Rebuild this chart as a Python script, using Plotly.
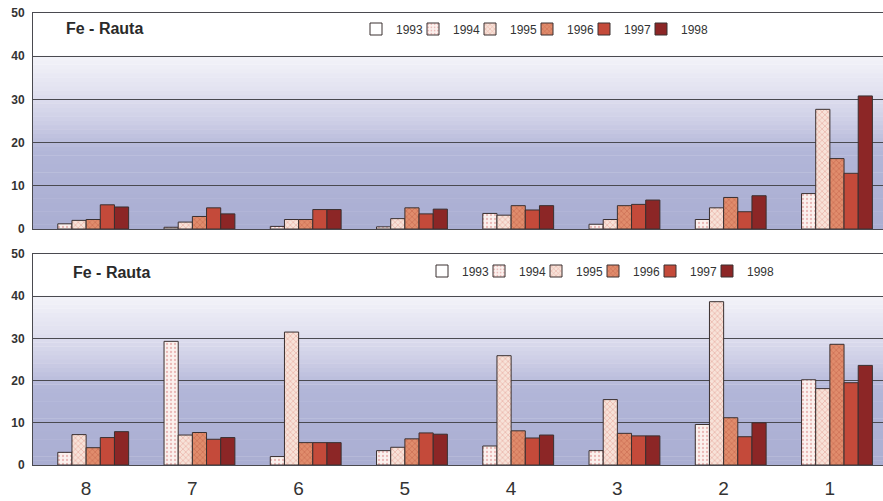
import plotly.graph_objects as go

categories = ["8", "7", "6", "5", "4", "3", "2", "1"]
years = ["1993", "1994", "1995", "1996", "1997", "1998"]

# top panel values (1993 has no bars)
top_1993 = [None] * 8
top_1994 = [1.2, 0.4, 0.6, 0.5, 3.6, 1.1, 2.2, 8.2]
top_1995 = [2.0, 1.6, 2.2, 2.4, 3.2, 2.2, 4.9, 27.7]
top_1996 = [2.2, 2.9, 2.2, 4.9, 5.4, 5.4, 7.3, 16.3]
top_1997 = [5.6, 4.9, 4.5, 3.5, 4.4, 5.7, 4.0, 12.9]
top_1998 = [5.1, 3.5, 4.5, 4.6, 5.4, 6.7, 7.7, 30.8]

# bottom panel values
bot_1993 = [None] * 8
bot_1994 = [3.0, 29.3, 2.0, 3.4, 4.5, 3.4, 9.6, 20.2]
bot_1995 = [7.2, 7.1, 31.5, 4.2, 25.9, 15.5, 38.7, 18.1]
bot_1996 = [4.1, 7.7, 5.3, 6.2, 8.1, 7.5, 11.2, 28.6]
bot_1997 = [6.5, 6.1, 5.3, 7.6, 6.4, 6.9, 6.7, 19.5]
bot_1998 = [7.9, 6.5, 5.3, 7.3, 7.1, 6.9, 10.0, 23.6]

panel_title = "Fe - Rauta"

top_series = [top_1993, top_1994, top_1995, top_1996, top_1997, top_1998]
bot_series = [bot_1993, bot_1994, bot_1995, bot_1996, bot_1997, bot_1998]

styles = [
    dict(color="#ffffff", pattern=dict(shape="")),
    dict(color="#fbf1ee", pattern=dict(shape=".", fgcolor="#d88080", bgcolor="#fbf1ee", size=4, solidity=0.25)),
    dict(color="#f4d6ca", pattern=dict(shape="x", fgcolor="#d87a70", bgcolor="#f7e2d8", size=4, solidity=0.3)),
    dict(color="#d8765a", pattern=dict(shape="x", fgcolor="#b44a36", bgcolor="#e08c6c", size=4, solidity=0.3)),
    dict(color="#c44a3a", pattern=dict(shape="")),
    dict(color="#8c2626", pattern=dict(shape="")),
]

fig = go.Figure()

for panel, series, xa, ya, lg in (("top", top_series, "x", "y", "legend"),
                                  ("bot", bot_series, "x2", "y2", "legend2")):
    for i, (yr, vals) in enumerate(zip(years, series)):
        st = styles[i]
        fig.add_trace(go.Bar(
            x=categories, y=vals, name=yr, xaxis=xa, yaxis=ya,
            legend=lg, offsetgroup=str(i),
            legendwidth=(40 if i == len(years) - 1 else None),
            marker=dict(color=st["color"], pattern=st["pattern"],
                        line=dict(color="#3a3030", width=1)),
        ))

W, H = 883, 501
x0 = 33 / W
top_dom = [(H - 229) / H, (H - 13) / H]
bot_dom = [(H - 465) / H, (H - 254) / H]

grid_col = "#4a4a50"
yax = dict(range=[0, 50], dtick=10, showgrid=True, gridcolor=grid_col, gridwidth=1,
           showline=True, linecolor=grid_col, linewidth=1, mirror=True,
           ticks="", zeroline=False, automargin=False, ticklabelstandoff=5,
           tickfont=dict(family="Liberation Sans, Arial", size=12, color="#333333", weight="bold"))
xax = dict(showgrid=False, showline=True, linecolor=grid_col, linewidth=1, mirror=True,
           ticks="", type="category", automargin=False)

legend_common = dict(orientation="h", xanchor="left", yanchor="middle",
                     font=dict(family="Liberation Sans, Arial", size=12, color="#333333"),
                     bgcolor="rgba(0,0,0,0)", entrywidth=12, itemwidth=30, traceorder="normal")

fig.update_layout(
    width=W, height=H, margin=dict(l=0, r=0, t=0, b=0, pad=0, autoexpand=False),
    paper_bgcolor="white", plot_bgcolor="rgba(0,0,0,0)",
    barmode="group", bargap=0.2, bargroupgap=0,
    xaxis=dict(domain=[x0, 1.0], anchor="y", showticklabels=False, **xax),
    yaxis=dict(domain=top_dom, anchor="x", **yax),
    xaxis2=dict(domain=[x0, 1.0], anchor="y2", ticklabelstandoff=6,
                tickfont=dict(family="Liberation Sans, Arial", size=19, color="#333333"), **xax),
    yaxis2=dict(domain=bot_dom, anchor="x2", **yax),
    legend=dict(x=356 / W, y=(H - 29) / H, **legend_common),
    legend2=dict(x=422 / W, y=(H - 271) / H, **legend_common),
    font=dict(family="Liberation Sans, Arial"),
)

# gradient background (decorative) in each panel below the 40 line
def grad_color(t):
    stops = [(0.0, (170, 174, 210)), (0.45, (178, 182, 216)), (0.62, (205, 206, 230)),
             (0.8, (226, 226, 240)), (1.0, (243, 243, 249))]
    for (a, ca), (b, cb) in zip(stops[:-1], stops[1:]):
        if a <= t <= b:
            f = (t - a) / (b - a)
            c = [round(ca[k] + (cb[k] - ca[k]) * f) for k in range(3)]
            return "rgb(%d,%d,%d)" % tuple(c)
    return "rgb(243,243,249)"

shapes = []
n = 40
for xr, yr in (("x domain", "y domain"), ("x2 domain", "y2 domain")):
    for k in range(n):
        y0 = 0.8 * k / n
        y1 = 0.8 * (k + 1) / n
        shapes.append(dict(type="rect", xref=xr, yref=yr, x0=0, x1=1, y0=y0, y1=y1 + 0.002,
                           fillcolor=grad_color((k + 0.5) / n), line=dict(width=0), layer="below"))
fig.update_layout(shapes=shapes)

fig.add_annotation(text="<b>" + panel_title + "</b>", xref="paper", yref="paper",
                   x=64 / W, y=(H - 29) / H, xanchor="left", yanchor="middle", showarrow=False,
                   font=dict(family="Liberation Sans, Arial", size=16, color="#2a2a2a"))
fig.add_annotation(text="<b>" + panel_title + "</b>", xref="paper", yref="paper",
                   x=71 / W, y=(H - 272) / H, xanchor="left", yanchor="middle", showarrow=False,
                   font=dict(family="Liberation Sans, Arial", size=16, color="#2a2a2a"))

fig.write_html("out.html")
